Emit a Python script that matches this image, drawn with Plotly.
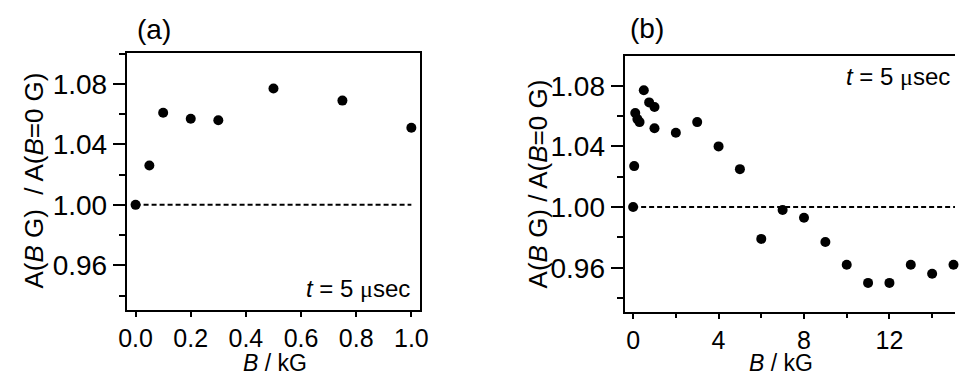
import plotly.graph_objects as go

# Panel (a): low-field scan
field_a = [0.0, 0.05, 0.1, 0.2, 0.3, 0.5, 0.75, 1.0]
ratio_a = [1.000, 1.026, 1.061, 1.057, 1.056, 1.077, 1.069, 1.051]

# Panel (b): full field scan
field_b = [0.0, 0.05, 0.1, 0.2, 0.3, 0.5, 0.75, 1.0, 1.0, 2, 3, 4, 5,
           6, 7, 8, 9, 10, 11, 12, 13, 14, 15]
ratio_b = [1.000, 1.027, 1.062, 1.058, 1.056, 1.077, 1.069, 1.066, 1.052,
           1.049, 1.056, 1.040, 1.025, 0.979, 0.998, 0.993, 0.977, 0.962,
           0.950, 0.950, 0.962, 0.956, 0.962]

reference_level = 1.0
panel_labels = ["(a)", "(b)"]
time_label = "<i>t</i> = 5 <span style=\"font-family:'Liberation Serif'\">μ</span>sec"
x_title = "<i>B</i> / kG"
y_title_a = "A(<i>B</i> G)  / A(<i>B</i>=0 G)"
y_title_b = "A(<i>B</i> G) / A(<i>B</i>=0 G)"

W, H = 964, 376
FONT = "Liberation Sans, Arial, sans-serif"


def px(x):
    return x / W


def py(y):
    return 1 - y / H


range_a = [-0.032, 1.032]
range_b = [-0.4, 15.07]

fig = go.Figure()
fig.add_trace(go.Scatter(x=field_a, y=ratio_a, mode="markers",
                         marker=dict(size=10, color="black"),
                         xaxis="x", yaxis="y", cliponaxis=False,
                         showlegend=False))
fig.add_trace(go.Scatter(x=field_b, y=ratio_b, mode="markers",
                         marker=dict(size=10, color="black"),
                         xaxis="x2", yaxis="y2", cliponaxis=False,
                         showlegend=False))

# dashed reference line at ratio = 1
dash_style = dict(color="black", width=2, dash="5px,3px")
fig.add_shape(type="line", xref="x", yref="y", x0=field_a[0], x1=field_a[-1],
              y0=reference_level, y1=reference_level, line=dash_style, layer="below")
fig.add_shape(type="line", xref="x2", yref="y2", x0=field_b[0], x1=range_b[1],
              y0=reference_level, y1=reference_level, line=dash_style, layer="below")

base = dict(showgrid=False, zeroline=False, showline=True,
            linecolor="black", linewidth=2, ticks="outside",
            tickwidth=2, tickcolor="black")
xfont = dict(family=FONT, size=25, color="black")
yfont = dict(family=FONT, size=28, color="black")
x_minor = dict(ticklen=4, tickwidth=2, ticks="outside", tickcolor="black", showgrid=False)
y_minor = dict(tick0=0.94, dtick=0.02, ticklen=6, tickwidth=2,
               ticks="outside", tickcolor="black", showgrid=False)

fig.update_layout(
    width=W, height=H,
    margin=dict(l=0, r=0, t=0, b=0),
    paper_bgcolor="white", plot_bgcolor="white",
    xaxis=dict(domain=[px(120), px(419)], range=range_a, anchor="y",
               tick0=0, dtick=0.2, tickformat=".1f", mirror=True,
               ticklen=5, tickfont=xfont, **base),
    yaxis=dict(domain=[py(310), py(53)], range=[0.9304, 1.1005], anchor="x",
               tick0=0.96, dtick=0.04, tickformat=".2f", mirror=True,
               ticklen=12, tickfont=yfont, minor=y_minor, **base),
    xaxis2=dict(domain=[px(627.3), 1.0], range=range_b, anchor="y2",
                tick0=0, dtick=4, mirror=True, ticklen=5, tickfont=xfont,
                minor=dict(tick0=0, dtick=2, **x_minor), **base),
    yaxis2=dict(domain=[py(312.3), py(56)], range=[0.9306, 1.0996], anchor="x2",
                tick0=0.96, dtick=0.04, tickformat=".2f", mirror=False,
                ticklen=12, tickfont=yfont, minor=y_minor, **base),
)

label_font = dict(family=FONT, size=28, color="black")
title_font = dict(family=FONT, size=26, color="black")
x_title_font = dict(family=FONT, size=23, color="black")
time_font = dict(family=FONT, size=24, color="black")
annotations = [
    dict(text=panel_labels[0], x=px(148), y=py(29), xanchor="center", yanchor="middle", font=label_font),
    dict(text=panel_labels[1], x=px(650.5), y=py(28), xanchor="center", yanchor="middle", font=label_font),
    dict(text=time_label, x=px(411), y=py(288), xanchor="right", yanchor="middle", font=time_font),
    dict(text=time_label, x=px(961), y=py(77), xanchor="right", yanchor="middle", font=time_font),
    dict(text=x_title, x=px(271), y=py(362.5), xanchor="center", yanchor="middle", font=x_title_font),
    dict(text=x_title, x=px(787), y=py(362.5), xanchor="center", yanchor="middle", font=x_title_font),
    dict(text=y_title_a, x=px(25), y=py(181), xanchor="center", yanchor="middle",
         textangle=-90, font=title_font),
    dict(text=y_title_b, x=px(540), y=py(183.5), xanchor="center", yanchor="middle",
         textangle=-90, font=title_font),
]
for a in annotations:
    a.update(xref="paper", yref="paper", showarrow=False)
fig.update_layout(annotations=annotations)

fig.write_html("out.html")
